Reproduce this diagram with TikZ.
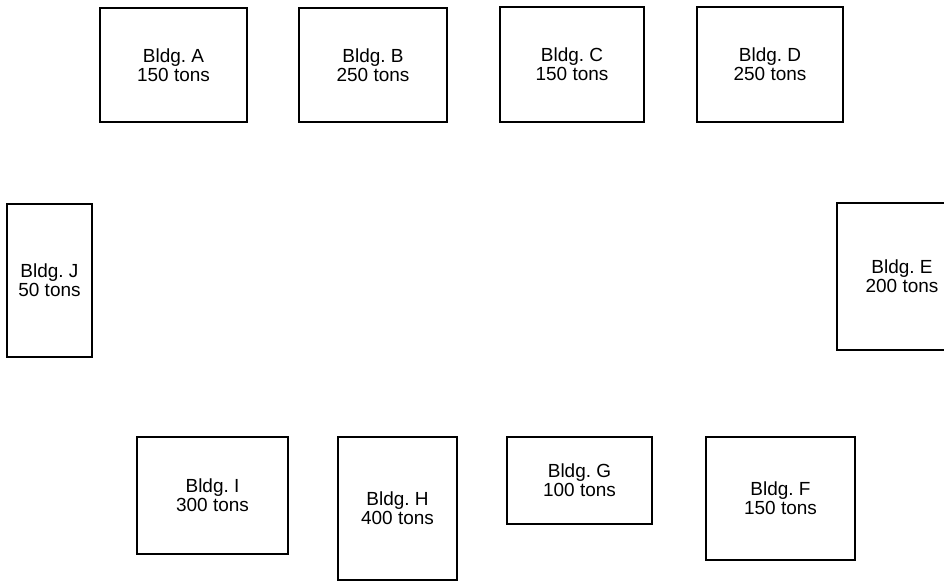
\documentclass[tikz,border=0pt]{standalone}
\usepackage{fontspec}
\setmainfont{Liberation Sans}
\usepackage{tikz}

\begin{document}
\begin{tikzpicture}[x=0.02cm,y=-0.02cm,font=\fontsize{10.8}{11}\selectfont,
    bldg/.style={draw,line width=0.8pt,align=center,inner sep=0pt}]
  \useasboundingbox (0,0) rectangle (944,583);
  \clip (0,0) rectangle (944,583);
  % buildings: name / left / top / right / bottom / tons
  \foreach \n/\l/\t/\r/\b/\w in {A/100/8/247/122/150, B/299/8/447/122/250,
      C/500/7/644/122/150, D/697/7/843/122/250, E/837/203/967/350/200,
      F/706/437/855/560/150, G/507/437/652/524/100, H/338/437/457/580/400,
      I/137/437/288/554/300, J/7/204/92/357/50}{
    \node[bldg,minimum width={(\r-\l)*0.02cm},minimum height={(\b-\t)*0.02cm}]
      (bldg\n) at ({(\l+\r)/2},{(\t+\b)/2}) {Bldg.~\n\\\w~tons};}
\end{tikzpicture}
\end{document}
